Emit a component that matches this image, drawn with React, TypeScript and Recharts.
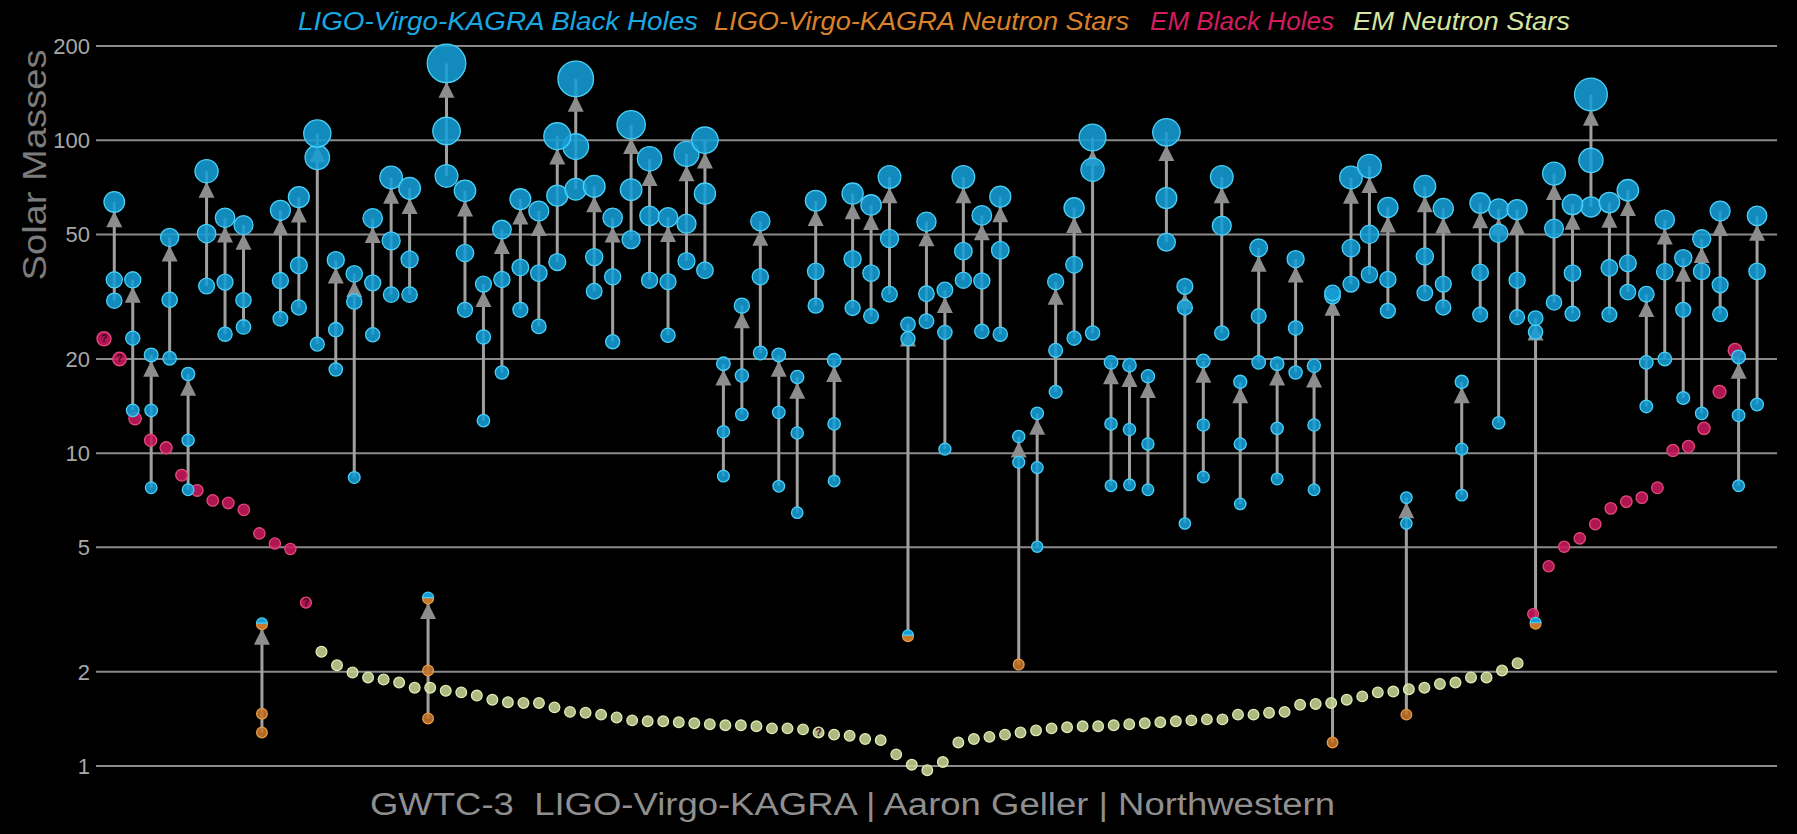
import { ErrorBar, ReferenceLine, Scatter, ScatterChart, XAxis, YAxis } from 'recharts';

const W = 1797;
const H = 834;
const FONT = '"Liberation Sans", Arial, Helvetica, sans-serif';

// GWTC-1 / GWTC-2.1 / GWTC-3 compact binary mergers in time order (solar masses)
const primaryMass = [
  35.8, 23.3, 13.7, 30.9, 11.0, 50.3, 35.2, 30.8, 1.47, 35.6, 39.8, 88.1,
  24.8, 30.5, 35.0, 47.7, 41.6, 2.02, 107, 43.6, 23.5, 35.9, 39.2, 37.6,
  66.5, 95.4, 42.3, 36.6, 69.5, 57.3, 35.3, 54.1, 67.5, 11.7, 17.7, 36.6, 13.5,
  11.6, 38.1, 12.4, 41.7, 37.6, 48.5, 23.2, 32.3, 24.3, 44.2, 35.5, 44.5,
  9.35, 8.99, 21.3, 40.0, 80.5, 12.4, 11.9, 10.7, 65.3, 29.2, 12.3, 53.3, 10.7,
  27.4, 12.0, 25.1, 12.3, 31.7, 45.2, 50.0, 35.9, 5.96, 42.5, 34.7, 10.3,
  37.8, 50.4, 35.7, 24.4, 52.2, 37.6, 86.2, 39.1, 40.4, 19.5, 38.0, 28.7,
  38.1, 34.5, 13.2, 38.1,
];
const secondaryMass = [
  30.7, 13.7, 7.75, 20.1, 7.64, 34.2, 24.0, 25.3, 1.28, 26.9, 29.2, 22.3,
  18.5, 8.36, 23.9, 32.1, 32.1, 1.42, 76.9, 28.7, 12.7, 18.1, 28.7, 25.4,
  40.8, 69.7, 32.9, 22.7, 48.1, 35.7, 23.8, 41.1, 38.4, 8.45, 13.3, 20.9, 7.84,
  6.45, 29.6, 8.15, 29.1, 27.4, 32.2, 2.6, 26.4, 10.3, 35.7, 24.5, 24.0,
  2.11, 5.02, 15.7, 23.3, 24.2, 7.87, 7.92, 7.64, 47.2, 5.96, 8.39, 24.2, 6.88,
  19.5, 8.27, 18.1, 7.64, 1.19, 34.7, 37.2, 28.5, 1.46, 32.5, 29.2, 7.34,
  27.7, 12.5, 27.2, 2.85, 30.3, 27.9, 61.2, 27.7, 32.7, 14.1, 20.0, 15.0,
  13.4, 27.8, 7.87, 14.3,
];
const finalMass = [
  63.5, 35.8, 20.6, 48.9, 17.9, 79.6, 56.5, 53.5, 2.84, 59.7, 65.8, 105,
  41.4, 37.4, 56.3, 76.0, 70.2, 3.43, 176, 68.9, 34.7, 51.8, 64.8, 59.4,
  103, 157, 71.2, 56.5, 112, 87.2, 56.7, 90.4, 100, 19.3, 29.6, 55.1, 20.6,
  17.5, 64.1, 19.8, 67.5, 62.1, 76.3, 25.8, 54.9, 33.2, 76.3, 57.5, 66.0,
  11.3, 13.4, 35.3, 60.8, 102, 19.5, 19.1, 17.6, 106, 34.1, 19.7, 76.3, 16.9,
  45.3, 19.3, 41.7, 19.0, 32.5, 76.0, 82.6, 61.0, 7.21, 71.2, 60.5, 16.9,
  63.0, 60.3, 60.0, 27.0, 78.2, 62.3, 140, 63.2, 69.2, 32.2, 55.7, 42.0,
  48.4, 59.4, 20.3, 57.3,
];
// merger indices whose components are neutron stars / ambiguous (mass gap)
const nsPrimary = [8, 17];
const nsSecondary = [8, 17, 49, 66, 70];
const mixedSecondary = [43, 77];
const mixedFinal = [8, 17];

// electromagnetic observations, left to right
const emBlackHolesLow = [23.2, 20.0, 12.9, 11.0, 10.4, 8.5, 7.6, 7.06, 6.93, 6.59, 5.54, 5.14, 4.94, 3.33];
const emNeutronStars = [
  2.32, 2.1, 1.99, 1.92, 1.89, 1.85, 1.78, 1.78, 1.74, 1.72, 1.68, 1.63, 1.6, 1.59, 1.59,
  1.54, 1.49, 1.48, 1.46, 1.43, 1.4, 1.39, 1.39, 1.38, 1.37, 1.36, 1.35, 1.35, 1.34, 1.32,
  1.32, 1.31, 1.28, 1.26, 1.25, 1.22, 1.21, 1.09, 1.01, 0.97, 1.03, 1.19, 1.22, 1.24, 1.26,
  1.28, 1.3, 1.32, 1.33, 1.34, 1.34, 1.35, 1.36, 1.37, 1.38, 1.39, 1.4, 1.41, 1.41, 1.46,
  1.46, 1.48, 1.49, 1.57, 1.58, 1.59, 1.63, 1.67, 1.72, 1.73, 1.76, 1.78, 1.83, 1.85, 1.92,
  1.92, 2.02, 2.13,
];
const emBlackHolesHigh = [3.06, 4.35, 5.02, 5.34, 5.93, 6.66, 7.0, 7.21, 7.75, 10.2, 10.5, 12.0, 15.7, 21.3];
const uncertainEm = [0, 1, 13, 46]; // drawn with a "?"

const Y_TICKS = [1, 2, 5, 10, 20, 50, 100, 200];

const COLORS: Record<string, [string, string]> = {
  bh: ['#149dd6', '#4acff7'],
  ns: ['#c7772a', '#e69a48'],
  embh: ['#c8195c', '#e4497f'],
  emns: ['#c4d494', '#e2ebb4'],
};

const radius = (m: number) => 5.2 + 0.08 * m;

function Dot(props: any) {
  const { cx, cy, payload } = props;
  if (cx == null || cy == null) return <g />;
  const r = radius(payload.y);
  const kind: string = payload.kind;
  if (kind === 'mix') {
    return (
      <g>
        <circle cx={cx} cy={cy} r={r} fill={COLORS.ns[0]} stroke={COLORS.ns[1]} strokeWidth={1.2} />
        <path
          d={`M${cx - r},${cy - 1} A${r},${r} 0 0 1 ${cx + r},${cy - 1} Z`}
          fill={COLORS.bh[0]}
          stroke={COLORS.bh[1]}
          strokeWidth={1.2}
        />
      </g>
    );
  }
  const [fill, stroke] = COLORS[kind];
  return (
    <g>
      <circle cx={cx} cy={cy} r={r} fill={fill} fillOpacity={0.88} stroke={stroke} strokeWidth={1.3} />
      {payload.unsure ? (
        <text x={cx} y={cy + 3.5} textAnchor="middle" fontSize={10} fontWeight="bold" fill="#3a0418" fontFamily={FONT}>
          ?
        </text>
      ) : null}
    </g>
  );
}

function ArrowHead(props: any) {
  const { cx, cy, payload } = props;
  if (cx == null || cy == null) return <g />;
  const tip = cy + radius(payload.y) - 1;
  return <polygon points={`${cx},${tip} ${cx - 8},${tip + 16} ${cx + 8},${tip + 16}`} fill="#8d8d8d" />;
}

export default function App() {
  const arrows = finalMass.map((mf, i) => ({ x: i, y: mf, err: [mf - secondaryMass[i], 0] }));
  const components = finalMass.flatMap((_, i) => [
    { x: i, y: secondaryMass[i], kind: mixedSecondary.includes(i) ? 'mix' : nsSecondary.includes(i) ? 'ns' : 'bh' },
    { x: i, y: primaryMass[i], kind: nsPrimary.includes(i) ? 'ns' : 'bh' },
  ]);
  const finals = finalMass.map((mf, i) => ({ x: i, y: mf, kind: mixedFinal.includes(i) ? 'mix' : 'bh' }));

  const emAll = [
    ...emBlackHolesLow.map((m) => ({ m, kind: 'embh' })),
    ...emNeutronStars.map((m) => ({ m, kind: 'emns' })),
    ...emBlackHolesHigh.map((m) => ({ m, kind: 'embh' })),
  ];
  const em = emAll.map((d, k) => ({ x: k, y: d.m, kind: d.kind, unsure: uncertainEm.includes(k) }));

  return (
    <div
      style={{
        position: 'absolute',
        left: 0,
        top: 0,
        width: W,
        height: H,
        background: '#000',
        overflow: 'hidden',
        fontFamily: FONT,
      }}
    >
      <ScatterChart width={W} height={H} margin={{ top: 40, right: 20, bottom: 49, left: 36 }}>
        <XAxis xAxisId="m" dataKey="x" type="number" domain={[-0.99, 90.08]} allowDataOverflow hide />
        <XAxis xAxisId="em" dataKey="x" type="number" domain={[-0.515, 107.7]} allowDataOverflow hide />
        <YAxis
          dataKey="y"
          type="number"
          scale="log"
          domain={[0.87, 209]}
          ticks={Y_TICKS}
          interval={0}
          allowDataOverflow
          width={60}
          axisLine={false}
          tickLine={false}
          tickSize={4}
          tickMargin={2}
          tick={{ fill: '#a8a8a8', fontSize: 22, fontFamily: FONT }}
        />
        {Y_TICKS.map((t) => (
          <ReferenceLine key={t} xAxisId="m" y={t} stroke="#8a8a8a" strokeWidth={2} />
        ))}
        <Scatter xAxisId="m" data={arrows} shape={ArrowHead} isAnimationActive={false}>
          <ErrorBar dataKey="err" direction="y" width={0} stroke="#a0a0a0" strokeWidth={3} isAnimationActive={false} />
        </Scatter>
        <Scatter xAxisId="em" data={em} shape={Dot} isAnimationActive={false} />
        <Scatter xAxisId="m" data={components} shape={Dot} isAnimationActive={false} />
        <Scatter xAxisId="m" data={finals} shape={Dot} isAnimationActive={false} />
      </ScatterChart>

      <svg
        width={W}
        height={H}
        style={{ position: 'absolute', left: 0, top: 0, pointerEvents: 'none' }}
        fontFamily={FONT}
      >
        <g fontSize={25} fontStyle="italic">
          <text x={298} y={30} fill="#1aa8e0" textLength={400} lengthAdjust="spacingAndGlyphs">
            LIGO-Virgo-KAGRA Black Holes
          </text>
          <text x={714} y={30} fill="#d9822b" textLength={415} lengthAdjust="spacingAndGlyphs">
            LIGO-Virgo-KAGRA Neutron Stars
          </text>
          <text x={1150} y={30} fill="#d21c5e" textLength={184} lengthAdjust="spacingAndGlyphs">
            EM Black Holes
          </text>
          <text x={1353} y={30} fill="#d6e4a0" textLength={217} lengthAdjust="spacingAndGlyphs">
            EM Neutron Stars
          </text>
        </g>
        <text
          transform="translate(46,165) rotate(-90)"
          textAnchor="middle"
          fontSize={34}
          fill="#7c7c7c"
          textLength={231}
          lengthAdjust="spacingAndGlyphs"
        >
          Solar Masses
        </text>
        <text x={370} y={815} fontSize={31} fill="#8f8f8f" textLength={965} lengthAdjust="spacingAndGlyphs" xmlSpace="preserve">
          GWTC-3  LIGO-Virgo-KAGRA | Aaron Geller | Northwestern
        </text>
      </svg>
    </div>
  );
}
